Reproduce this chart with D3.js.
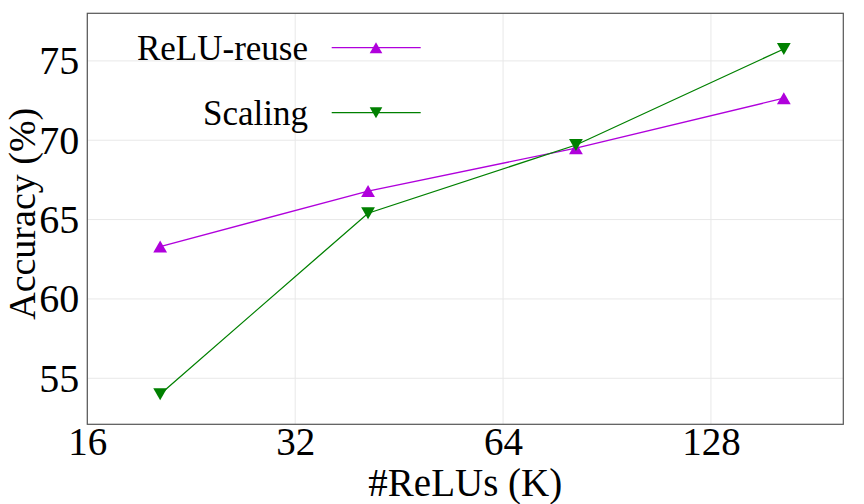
<!DOCTYPE html>
<html>
<head>
<meta charset="utf-8">
<script src="https://cdn.jsdelivr.net/npm/d3@7"></script>
<style>
  body { margin: 0; background: #fff; }
  svg text { font-family: "Liberation Serif", "Times New Roman", Times, serif; }
</style>
</head>
<body>
<div id="chart"></div>
<script>
// Accuracy vs #ReLUs

const width = 864,
    height = 504,
    margin = ({ top: 13.3, right: 20.7, bottom: 79.7, left: 87.3 });

// data
const relus = [20.4, 40.8, 81.6, 163.2];          // #ReLUs (K)
const reluReuse = [63.3, 66.8, 69.5, 72.65];       // accuracy %
const scaling = [54.0, 65.4, 69.7, 75.75];         // accuracy %
const xTicks = [16, 32, 64, 128];
const yTicks = [55, 60, 65, 70, 75];

const series = [
    { name: "ReLU-reuse", values: reluReuse, color: "#b000dc", marker: "up" },
    { name: "Scaling", values: scaling, color: "#008000", marker: "down" }
];

const svg = d3.select("#chart")
    .append("svg")
    .attr("width", width)
    .attr("height", height)
    .attr("viewBox", [0, 0, width, height]);

const x = d3.scaleLog()
    .base(2)
    .domain([16, 199])
    .range([margin.left, width - margin.right]);

const y = d3.scaleLinear()
    .domain([52.1, 78])
    .range([height - margin.bottom, margin.top]);

// grid
svg.append("g")
    .selectAll("line")
    .data(xTicks)
    .join("line")
    .attr("x1", d => x(d)).attr("x2", d => x(d))
    .attr("y1", margin.top).attr("y2", height - margin.bottom)
    .attr("stroke", "#e8e8e8")
    .attr("stroke-width", 1);

svg.append("g")
    .selectAll("line")
    .data(yTicks)
    .join("line")
    .attr("x1", margin.left).attr("x2", width - margin.right)
    .attr("y1", d => y(d)).attr("y2", d => y(d))
    .attr("stroke", "#e8e8e8")
    .attr("stroke-width", 1);

// axes (labels only, no tick marks)
const xAxis = svg.append("g")
    .attr("transform", `translate(0,${height - margin.bottom})`)
    .call(d3.axisBottom(x).tickValues(xTicks).tickFormat(d3.format("d")).tickSize(0).tickPadding(3));
xAxis.attr("font-family", null);
xAxis.select(".domain").remove();
xAxis.selectAll("text")
    .attr("font-size", 39)
    .attr("fill", "#000")
    .attr("dy", "0.71em");

const yAxis = svg.append("g")
    .attr("transform", `translate(${margin.left},0)`)
    .call(d3.axisLeft(y).tickValues(yTicks).tickSize(0).tickPadding(8));
yAxis.attr("font-family", null);
yAxis.select(".domain").remove();
yAxis.selectAll("text")
    .attr("font-size", 40)
    .attr("fill", "#000");

// frame
svg.append("rect")
    .attr("x", margin.left)
    .attr("y", margin.top)
    .attr("width", width - margin.left - margin.right)
    .attr("height", height - margin.top - margin.bottom)
    .attr("fill", "none")
    .attr("stroke", "#555")
    .attr("stroke-width", 1.2);

// axis titles
svg.append("text")
    .attr("x", (margin.left + width - margin.right) / 2)
    .attr("y", 496)
    .attr("text-anchor", "middle")
    .attr("font-size", 39)
    .text("#ReLUs (K)");

svg.append("text")
    .attr("transform", `translate(35,${(margin.top + height - margin.bottom) / 2 - 5}) rotate(-90)`)
    .attr("text-anchor", "middle")
    .attr("font-size", 38)
    .text("Accuracy (%)");

// triangle path helper
function tri(size, dir) {
    const h = size, w = size * 1.15;
    return dir === "up"
        ? `M0,${-h / 2}L${w / 2},${h / 2}L${-w / 2},${h / 2}Z`
        : `M0,${h / 2}L${w / 2},${-h / 2}L${-w / 2},${-h / 2}Z`;
}

const line = d3.line()
    .x(d => x(d[0]))
    .y(d => y(d[1]));

series.forEach(s => {
    const pts = relus.map((r, i) => [r, s.values[i]]);
    svg.append("path")
        .datum(pts)
        .attr("d", line)
        .attr("fill", "none")
        .attr("stroke", s.color)
        .attr("stroke-width", 1.3);

    svg.append("g")
        .selectAll("path")
        .data(pts)
        .join("path")
        .attr("transform", d => `translate(${x(d[0])},${y(d[1])})`)
        .attr("d", tri(12, s.marker))
        .attr("fill", s.color);
});

// legend
const legend = svg.append("g");
series.forEach((s, i) => {
    const ly = 47.7 + i * 65;
    legend.append("text")
        .attr("x", 308)
        .attr("y", ly)
        .attr("dy", "0.35em")
        .attr("text-anchor", "end")
        .attr("font-size", 35)
        .text(s.name);
    legend.append("line")
        .attr("x1", 331.7).attr("x2", 420.7)
        .attr("y1", ly).attr("y2", ly)
        .attr("stroke", s.color)
        .attr("stroke-width", 1.3);
    legend.append("path")
        .attr("transform", `translate(376,${ly})`)
        .attr("d", tri(11, s.marker))
        .attr("fill", s.color);
});
</script>
</body>
</html>
